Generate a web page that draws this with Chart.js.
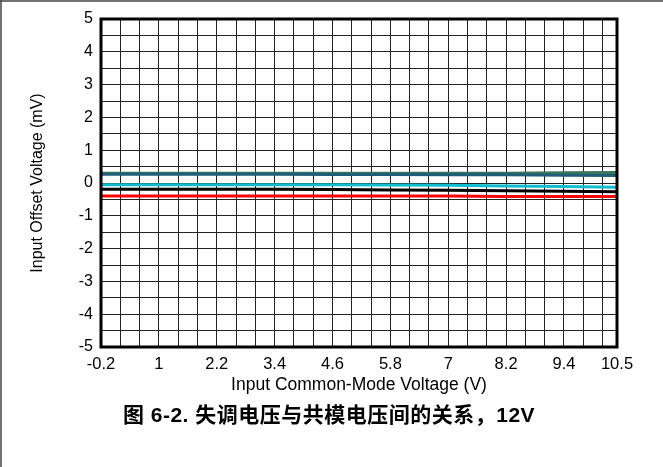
<!DOCTYPE html>
<html>
<head>
<meta charset="utf-8">
<script src="https://cdn.jsdelivr.net/npm/chart.js@4/dist/chart.umd.min.js"></script>
<style>
  html, body { margin: 0; padding: 0; background: #fff; }
  #wrap { width: 663px; height: 467px; }
</style>
</head>
<body>
<div id="wrap"><canvas id="c" width="663" height="467"></canvas></div>
<script>
// Input common-mode voltage (V) at which offset was sampled
const voltage = [-0.2, 1, 2.2, 3.4, 4.6, 5.8, 7, 8.2, 9.4, 10.5];

// Input offset voltage (mV) per unit
const offsetGreen = [0.30, 0.30, 0.30, 0.30, 0.30, 0.30, 0.30, 0.30, 0.31, 0.32];
const offsetNavy  = [0.27, 0.27, 0.27, 0.27, 0.26, 0.26, 0.25, 0.25, 0.24, 0.23];
const offsetCyan  = [-0.05, -0.05, -0.05, -0.05, -0.05, -0.06, -0.07, -0.09, -0.11, -0.13];
const offsetBlack = [-0.19, -0.19, -0.19, -0.19, -0.20, -0.21, -0.22, -0.24, -0.25, -0.27];
const offsetRed   = [-0.40, -0.40, -0.40, -0.40, -0.40, -0.40, -0.40, -0.41, -0.41, -0.41];

// Axis tick labels
const xTickLabels = ["-0.2", "1", "2.2", "3.4", "4.6", "5.8", "7", "8.2", "9.4", "10.5"];
const yTickLabels = ["-5", "-4", "-3", "-2", "-1", "0", "1", "2", "3", "4", "5"];

const caption = "图 6-2. 失调电压与共模电压间的关系，12V";

const FONT = "'Liberation Sans', Arial, sans-serif";

function series(values) {
  return voltage.map((v, i) => ({ x: v, y: values[i] }));
}

function lineSet(values, color) {
  return {
    data: series(values),
    borderColor: color,
    backgroundColor: color,
    borderWidth: 3,
    pointRadius: 0,
    tension: 0,
    fill: false
  };
}

// Plot frame, outer figure rule and caption
const decorations = {
  id: 'decorations',
  afterDatasetsDraw(chart) {
    const { ctx, chartArea: a } = chart;
    ctx.save();
    ctx.strokeStyle = '#000';
    ctx.lineWidth = 3;
    ctx.strokeRect(a.left, a.top, a.right - a.left, a.bottom - a.top);
    ctx.restore();
  },
  afterDraw(chart) {
    const { ctx } = chart;
    ctx.save();
    ctx.strokeStyle = '#444';
    ctx.lineWidth = 1.5;
    ctx.beginPath();
    ctx.moveTo(0, 1);
    ctx.lineTo(663, 1);
    ctx.moveTo(1, 0);
    ctx.lineTo(1, 467);
    ctx.stroke();
    ctx.fillStyle = '#000';
    ctx.font = "bold 21px 'Liberation Sans', 'Noto Sans CJK SC', sans-serif";
    ctx.letterSpacing = '0.5px';
    ctx.textAlign = 'center';
    ctx.textBaseline = 'middle';
    ctx.fillText(caption, 329, 416);
    ctx.restore();
  }
};

new Chart(document.getElementById('c'), {
  type: 'line',
  data: {
    datasets: [
      lineSet(offsetRed, '#ff0000'),
      lineSet(offsetBlack, '#000000'),
      lineSet(offsetCyan, '#12bccf'),
      lineSet(offsetNavy, '#1f5d78'),
      lineSet(offsetGreen, '#3a765c')
    ]
  },
  options: {
    responsive: false,
    animation: false,
    devicePixelRatio: 1,
    layout: { padding: { top: 19, right: 46, bottom: 60, left: 0 } },
    plugins: { legend: { display: false }, tooltip: { enabled: false } },
    scales: {
      x: {
        type: 'linear',
        min: -0.2,
        max: 10.5,
        afterBuildTicks(scale) {
          const ticks = [];
          for (let k = 0; k <= 26; k++) ticks.push({ value: Math.round((-0.2 + 0.4 * k) * 10) / 10 });
          ticks.push({ value: 10.5 });
          scale.ticks = ticks;
        },
        afterFit(scale) { scale.height = 60; },
        ticks: {
          autoSkip: false,
          maxRotation: 0,
          padding: 8,
          color: '#000',
          font: { family: FONT, size: 16.5 },
          callback(value) {
            const hit = xTickLabels.find(t => Math.abs(parseFloat(t) - value) < 1e-6);
            return hit === undefined ? '' : hit;
          }
        },
        grid: { color: '#222', lineWidth: 1, drawTicks: false },
        border: { display: false },
        title: {
          display: true,
          text: 'Input Common-Mode Voltage (V)',
          color: '#000',
          font: { family: FONT, size: 17.5 },
          padding: { top: 0, bottom: 11 }
        }
      },
      y: {
        type: 'linear',
        min: -5,
        max: 5,
        afterBuildTicks(scale) {
          const ticks = [];
          for (let k = 0; k <= 20; k++) ticks.push({ value: -5 + 0.5 * k });
          scale.ticks = ticks;
        },
        afterFit(scale) { scale.width = 101; },
        ticks: {
          autoSkip: false,
          padding: 8,
          color: '#000',
          font: { family: FONT, size: 16 },
          callback(value) {
            const hit = yTickLabels.find(t => Math.abs(parseFloat(t) - value) < 1e-6);
            return hit === undefined ? '' : hit;
          }
        },
        grid: { color: '#222', lineWidth: 1, drawTicks: false },
        border: { display: false },
        title: {
          display: true,
          text: 'Input Offset Voltage (mV)',
          color: '#000',
          font: { family: FONT, size: 16 },
          padding: { top: 28, bottom: 0 }
        }
      }
    }
  },
  plugins: [decorations]
});
</script>
</body>
</html>
